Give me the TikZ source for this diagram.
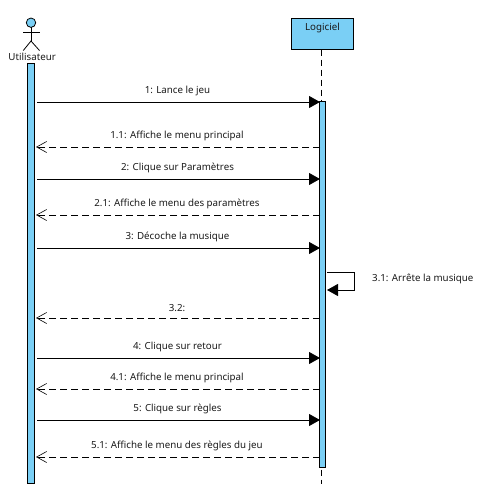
\documentclass[tikz,border=0pt]{standalone}
\usepackage{fontspec}
\setmainfont{Noto Sans}
\usetikzlibrary{arrows.meta, positioning, calc}
\definecolor{SeqBlue}{HTML}{7ACFF5}
\definecolor{SeqText}{HTML}{1A1A1A}
\tikzset{
    % Every label of the diagram
    every node/.style={font=\fontsize{9.75}{11}\selectfont, text=SeqText},
    % Participant box
    participant/.style={
        rectangle,
        draw=black,
        fill=SeqBlue,
        line width=0.8pt,
        minimum width=62pt,
        minimum height=31pt,
        inner sep=0pt,
        outer sep=0pt,
        anchor=north west
    },
    % Activation bar
    activation/.style={
        rectangle,
        draw=black,
        fill=SeqBlue,
        line width=0.8pt,
        inner sep=0pt,
        outer sep=0pt,
        anchor=north west
    },
    % Actor head
    actorhead/.style={
        circle,
        draw=black,
        fill=SeqBlue,
        line width=0.8pt,
        minimum size=9.4pt,
        inner sep=0pt,
        outer sep=0pt
    },
    % Lifeline
    lifeline/.style={
        line width=0.8pt,
        dash pattern=on 6pt off 4pt
    },
    % Call message
    call/.style={
        -{Triangle[length=11pt,width=12pt]},
        line width=0.8pt,
        color=black
    },
    % Return message
    reply/.style={
        -{Straight Barb[length=10pt,width=11pt,line width=0.6pt]},
        line width=0.8pt,
        dash pattern=on 7pt off 4pt,
        color=black
    },
    % Text over a message
    msglabel/.style={
        above=5.5pt,
        xshift=-1pt,
        inner sep=0pt
    }
}

\begin{document}
\begin{tikzpicture}[x=1pt, y=-1pt]
    \useasboundingbox (0,0) rectangle (489,496);

    % Participants
    \node (head) [actorhead] at (31,22.7) {};
    \coordinate (hip) at (31,41);
    \coordinate (armL) at (23.3,32.3);
    \coordinate (armR) at (39.5,32.3);
    \coordinate (footL) at (23.3,50.5);
    \coordinate (footR) at (39.5,50.5);
    \draw [line width=0.8pt] (head) -- (hip);
    \draw [line width=0.8pt] (armL) -- (armR);
    \draw [line width=0.8pt] (footL) -- (hip) -- (footR);
    \node (user) at (32.2,57) {Utilisateur};

    \node (soft) [participant] at (291.5,18.5) {};
    \node (softname) [below=4.5pt of soft.north, inner sep=0pt] {Logiciel};

    % Lifeline goes behind the bar
    \coordinate (softend) at (321.5,484);
    \draw [lifeline] (soft.south -| softend) -- (softend);

    % Activation bars
    \node (baruser) [activation, minimum width=7pt, minimum height=420pt] at (27.5,63.5) {};
    \node (barsoft) [activation, minimum width=6pt, minimum height=366pt] at (319.5,101.5) {};

    % End points of the messages
    \coordinate (u1) at (37,102);    \coordinate (s1) at (320,102);
    \coordinate (u2) at (36,147);    \coordinate (s2) at (320,147);
    \coordinate (u3) at (37,179);    \coordinate (s3) at (320,179);
    \coordinate (u4) at (36,215);    \coordinate (s4) at (320,215);
    \coordinate (u5) at (37,248);    \coordinate (s5) at (320,248);
    \coordinate (u6) at (36,318);    \coordinate (s6) at (320,318);
    \coordinate (u7) at (37,358);    \coordinate (s7) at (320,358);
    \coordinate (u8) at (36,389);    \coordinate (s8) at (320,389);
    \coordinate (u9) at (37,420);    \coordinate (s9) at (320,420);
    \coordinate (u10) at (36,457);   \coordinate (s10) at (320,457);

    % Messages
    \draw [call] (u1) -- node (m1) [msglabel] {1: Lance le jeu} (s1);
    \draw [reply] (s2) -- node (m2) [msglabel] {1.1: Affiche le menu principal} (u2);
    \draw [call] (u3) -- node (m3) [msglabel] {2: Clique sur Paramètres} (s3);
    \draw [reply] (s4) -- node (m4) [msglabel] {2.1: Affiche le menu des paramètres} (u4);
    \draw [call] (u5) -- node (m5) [msglabel] {3: Décoche la musique} (s5);
    \draw [reply] (s6) -- node (m6) [msglabel] {3.2:} (u6);
    \draw [call] (u7) -- node (m7) [msglabel] {4: Clique sur retour} (s7);
    \draw [reply] (s8) -- node (m8) [msglabel] {4.1: Affiche le menu principal} (u8);
    \draw [call] (u9) -- node (m9) [msglabel] {5: Clique sur règles} (s9);
    \draw [reply] (s10) -- node (m10) [msglabel] {5.1: Affiche le menu des règles du jeu} (u10);

    % Self call
    \coordinate (selfa) at (327,272.3);
    \coordinate (selfb) at (354.3,272.3);
    \coordinate (selfc) at (354.3,290);
    \coordinate (selfd) at (327,290);
    \draw [call] (selfa) -- (selfb) -- (selfc) -- (selfd);
    \node (selflabel) [anchor=west, inner sep=0pt] at (372,279) {3.1: Arrête la musique};
\end{tikzpicture}
\end{document}
